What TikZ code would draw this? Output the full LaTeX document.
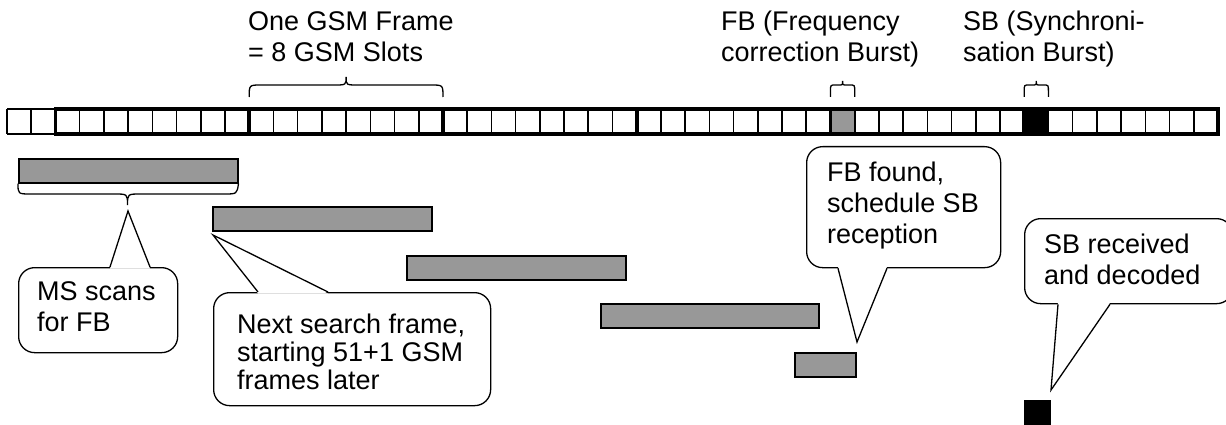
\documentclass[tikz,border=0pt]{standalone}
\usepackage{fontspec}
\setmainfont{Liberation Sans}
\usetikzlibrary{calc}
\definecolor{barfill}{HTML}{989898}
\begin{document}
\begin{tikzpicture}[x=1pt,y=-1pt,
  lbl/.style={font=\fontsize{27}{31}\selectfont, align=left, inner sep=0pt, anchor=base west},
  cbox/.style={draw, fill=white, rounded corners=16pt, line width=1.3pt, inner sep=0pt, anchor=north west},
  bar/.style={draw, fill=barfill, line width=1.5pt, inner sep=0pt, anchor=north west, minimum height=24},
  ptr/.style={line width=1.3pt, line join=miter},
  brc/.style={line width=1.3pt},
  thinslot/.style={line width=1.6pt},
  thickslot/.style={line width=3.6pt},
]
\useasboundingbox (0,0) rectangle (1226,425);
\clip (0,0) rectangle (1226,425);

% ---- slot strip ----
\fill[barfill] (830.5,109) rectangle (854.7,134);
\fill[black] (1024.2,109) rectangle (1048.4,134);
\foreach \i in {0,...,50} \draw[thinslot] ({7+\i*24.22},109) -- ({7+\i*24.22},134);
\draw[thinslot] (7,109) -- (55.4,109) (7,134) -- (55.4,134);
\draw[thickslot] (55.4,109) rectangle (1218,134);
\foreach \i in {10,18,26,34,42} \draw[thickslot] ({7+\i*24.22},109) -- ({7+\i*24.22},134);

% ---- top labels (anchor = baseline of last line) ----
\node[lbl] (frame) at (248,62) {One GSM Frame\\= 8 GSM Slots};
\node[lbl] (fb) at (721,62) {FB (Frequency\\correction Burst)};
\node[lbl] (sb) at (963,62) {SB (Synchroni-\\sation Burst)};

% ---- braces over the strip ----
\draw[brc] (249.2,97) .. controls (249.2,85) .. (261,85) -- (334,85) .. controls (346.1,85) .. (346.1,77)
           .. controls (346.1,85) .. (358,85) -- (431,85) .. controls (443,85) .. (443,97);
\draw[brc] (830.5,97) -- (830.5,91) .. controls (830.5,85) .. (835.5,85) -- (838.6,85) .. controls (842.6,85) .. (842.6,81)
           .. controls (842.6,85) .. (846.6,85) -- (849.7,85) .. controls (854.7,85) .. (854.7,91) -- (854.7,97);
\draw[brc] (1024.2,97) -- (1024.2,91) .. controls (1024.2,85) .. (1029.2,85) -- (1032.3,85) .. controls (1036.3,85) .. (1036.3,81)
           .. controls (1036.3,85) .. (1040.3,85) -- (1043.4,85) .. controls (1048.4,85) .. (1048.4,91) -- (1048.4,97);

% ---- search windows ----
\node[bar, minimum width=219] (b1) at (18,158) {};
\node[bar, minimum width=219] (b2) at (212,206) {};
\node[bar, minimum width=219] (b3) at (406,255) {};
\node[bar, minimum width=218] (b4) at (600,303) {};
\node[bar, minimum width=61] (b5) at (794,352) {};
\node[bar, fill=black, minimum width=25, minimum height=25] (b6) at (1024,400) {};

% brace under first window
\draw[brc] (b1.south west) .. controls (18,194) .. (31,194) -- (114.5,194) .. controls (127.5,194) .. (127.5,205)
           .. controls (127.5,194) .. (140.5,194) -- (224,194) .. controls (237,194) .. (b1.south east);

% ---- callouts ----
\coordinate (mstip) at (128,211);
\coordinate (nxtip) at (213,235);
\coordinate (fbtip) at (857,342);
\coordinate (sbtip) at (1051,390);

\node[cbox, minimum width=159, minimum height=85] (ms) at (18,267) {};
\fill[white] ($(ms.north west)+(92,1.5)$) -- (mstip) -- ($(ms.north west)+(132,1.5)$) -- cycle;
\draw[ptr] ($(ms.north west)+(92,0)$) -- (mstip) -- ($(ms.north west)+(132,0)$);
\node[lbl] (mstext) at (37,331) {MS scans\\for FB};

\node[cbox, minimum width=277, minimum height=113] (nx) at (213,292) {};
\fill[white] ($(nx.north west)+(45,1.5)$) -- (nxtip) -- ($(nx.north west)+(115,1.5)$) -- cycle;
\draw[ptr] ($(nx.north west)+(45,0)$) -- (nxtip) -- ($(nx.north west)+(115,0)$);
\node[lbl] (nxtext) at (237,389) {Next search frame,\\[-3pt]starting 51+1 GSM\\[-3pt]frames later};

\node[cbox, minimum width=194, minimum height=121] (fbc) at (806,146) {};
\fill[white] ($(fbc.south west)+(32,-1.5)$) -- (fbtip) -- ($(fbc.south west)+(81,-1.5)$) -- cycle;
\draw[ptr] ($(fbc.south west)+(32,0)$) -- (fbtip) -- ($(fbc.south west)+(81,0)$);
\node[lbl] (fbtext) at (827,243) {FB found,\\schedule SB\\reception};

\node[cbox, minimum width=208, minimum height=85] (sbc) at (1024,218) {};
\fill[white] ($(sbc.south west)+(34,-1.5)$) -- (sbtip) -- ($(sbc.south west)+(86,-1.5)$) -- cycle;
\draw[ptr] ($(sbc.south west)+(34,0)$) -- (sbtip) -- ($(sbc.south west)+(86,0)$);
\node[lbl] (sbtext) at (1044,284) {SB received\\and decoded};
\end{tikzpicture}
\end{document}
